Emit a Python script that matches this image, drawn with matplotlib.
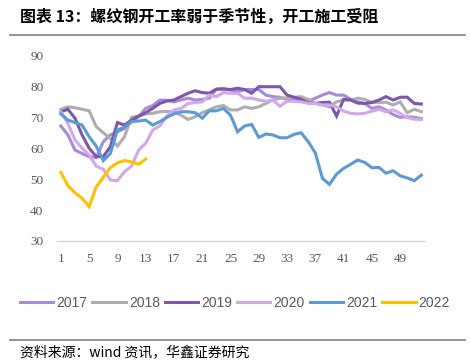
import numpy as np
import matplotlib.pyplot as plt
from matplotlib.lines import Line2D

plt.rcParams['font.family'] = ['Liberation Serif', 'Noto Sans CJK SC']

weeks = np.arange(1, 53)

# weekly operating rate (%)
y2017 = [67.2, 64.3, 59.4, 58.3, 57.3, 57.0, 62.1, 64.3, 65.3, 66.4, 68.6, 70.2, 72.9,
         73.8, 75.6, 75.5, 75.0, 75.6, 76.2, 75.6, 75.8, 76.2, 79.1, 79.4, 78.8, 78.3,
         79.0, 79.0, 79.0, 77.2, 76.7, 76.5, 75.8, 75.6, 75.6, 75.2, 76.2, 77.2, 78.0,
         77.2, 77.2, 75.8, 75.0, 74.5, 72.9, 73.4, 72.4, 70.9, 70.0, 70.2, 70.0, 69.6]
y2018 = [72.6, 73.4, 73.1, 72.6, 72.1, 67.0, 65.0, 63.2, 60.7, 63.7, 70.0, 70.4, 71.1,
         71.3, 71.8, 71.9, 71.8, 70.7, 69.3, 70.2, 71.5, 72.4, 73.4, 73.8, 72.4, 72.4,
         73.4, 72.9, 73.4, 74.5, 75.6, 76.2, 76.3, 76.5, 76.7, 75.8, 74.5, 74.0, 73.4,
         75.0, 75.6, 75.6, 76.2, 75.8, 74.8, 74.8, 74.9, 74.0, 75.0, 71.5, 72.6, 71.8]
y2019 = [71.8, 72.6, 69.7, 64.3, 60.0, 57.3, 57.3, 60.5, 68.3, 67.5, 69.1, 70.4, 71.5,
         72.9, 74.5, 75.3, 75.6, 76.7, 77.8, 78.6, 78.0, 77.8, 79.1, 79.1, 79.0, 79.4,
         79.0, 77.8, 79.9, 79.9, 79.9, 79.9, 77.2, 76.5, 75.8, 74.7, 74.5, 74.8, 74.9,
         70.4, 75.8, 75.6, 74.6, 74.5, 74.8, 75.6, 76.7, 75.6, 76.5, 76.5, 74.5, 74.3]
y2020 = [71.8, 68.0, 62.7, 60.0, 57.8, 54.2, 53.2, 49.7, 49.5, 52.4, 54.2, 59.4, 61.6,
         65.9, 67.2, 70.4, 72.4, 72.9, 74.5, 74.8, 75.0, 77.2, 76.7, 78.0, 77.8, 77.8,
         76.2, 76.2, 75.6, 75.2, 75.6, 73.6, 75.2, 75.2, 75.0, 74.5, 74.5, 74.0, 74.0,
         73.4, 72.0, 71.3, 71.1, 71.3, 72.0, 72.6, 71.8, 72.4, 71.3, 69.9, 69.4, 69.3]
y2021 = [71.1, 69.1, 68.3, 67.5, 63.7, 60.7, 56.0, 58.3, 65.9, 66.8, 68.6, 68.8, 69.1,
         67.5, 68.6, 70.0, 71.1, 71.8, 71.8, 71.5, 69.7, 72.1, 72.1, 72.9, 70.7, 65.3,
         67.2, 67.7, 63.5, 64.6, 64.3, 63.4, 63.4, 64.5, 65.0, 62.1, 58.5, 50.3, 48.3,
         51.6, 53.5, 54.8, 56.2, 55.4, 53.7, 53.8, 51.9, 52.7, 51.1, 50.4, 49.5, 51.3]
y2022 = [52.2, 47.9, 45.6, 43.8, 41.1, 47.5, 50.6, 53.7, 55.3, 56.0, 55.6, 54.8, 56.5]

series = [('2017', y2017, '#A78BDA'), ('2018', y2018, '#AEAEAE'),
          ('2019', y2019, '#7F56AE'), ('2020', y2020, '#D2A8EC'),
          ('2021', y2021, '#5B9BD5'), ('2022', y2022, '#FFC000')]

fig = plt.figure(figsize=(4.7, 3.64), dpi=100)
ax = fig.add_axes([0.122, 0.338, 0.782, 0.5095])

for name, vals, col in series:
    ax.plot(weeks[:len(vals)], vals, color=col, lw=2.2, label=name,
            solid_joinstyle='miter')

ax.set_xlim(0.5, 52.5)
ax.set_ylim(30, 90)
ax.set_xticks(np.arange(1, 52, 4))
ax.set_yticks(np.arange(30, 91, 10))
for s in ['top', 'right', 'left']:
    ax.spines[s].set_visible(False)
ax.spines['bottom'].set_color('#D9D9D9')
ax.spines['bottom'].set_linewidth(1.0)
ax.tick_params(axis='both', length=0, labelsize=9.5, colors='#595959')
ax.tick_params(axis='x', pad=9)
ax.tick_params(axis='y', pad=10)

handles = [Line2D([], [], color=c, lw=2.2) for _, _, c in series]
fig.legend(handles, [n for n, _, _ in series], loc='center', bbox_to_anchor=(0.5, 0.168),
           ncol=6, frameon=False, handlelength=2.4, handletextpad=0.22,
           columnspacing=0.36, prop={'family': 'Liberation Sans', 'size': 10},
           labelcolor='#595959')

fig.text(0.043, 0.953, '图表 13：螺纹钢开工率弱于季节性，开工施工受阻', fontsize=11.5,
         fontweight='bold', family=['Noto Sans CJK SC'], va='center', ha='left')
fig.add_artist(Line2D([0.021, 0.99], [0.904, 0.904], color='#808080', lw=1.2))
fig.add_artist(Line2D([0.021, 0.99], [0.066, 0.066], color='#808080', lw=1.2))
fig.text(0.043, 0.033, '资料来源：wind 资讯，华鑫证券研究', fontsize=10,
         family=['Noto Sans CJK SC'], va='center', ha='left')

fig.savefig('out.png', dpi=100)
